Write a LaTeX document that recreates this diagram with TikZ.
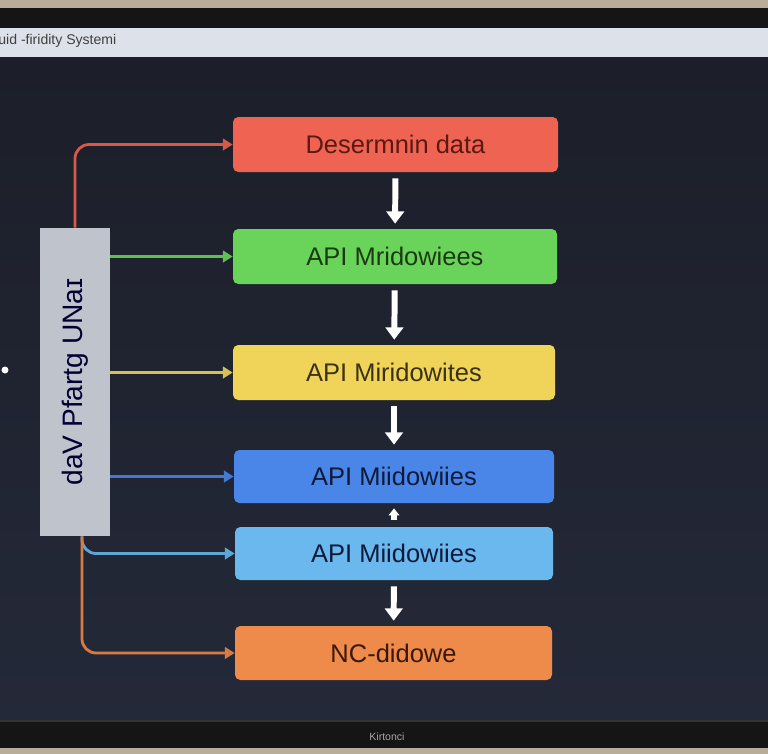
\documentclass[tikz,border=0pt]{standalone}
\usepackage{fontspec}
\setmainfont{Liberation Sans}
\usetikzlibrary{arrows.meta,positioning}
\definecolor{screenbg}{HTML}{1C1F29}
\definecolor{screenbot}{HTML}{242939}
\definecolor{bezel}{HTML}{151515}
\definecolor{desk}{HTML}{B8AD98}
\definecolor{titlebar}{HTML}{DDE1EA}
\definecolor{sidegray}{HTML}{BFC3CB}
\definecolor{cred}{HTML}{EE6352}
\definecolor{cgreen}{HTML}{6AD45A}
\definecolor{cyellow}{HTML}{F0D45A}
\definecolor{cblue}{HTML}{4A86E8}
\definecolor{clblue}{HTML}{6AB8EE}
\definecolor{corange}{HTML}{EE8A4A}
\definecolor{tred}{HTML}{5A1A12}
\definecolor{tgreen}{HTML}{1A3A12}
\definecolor{tyellow}{HTML}{3A3212}
\definecolor{tblue}{HTML}{0E1A3A}
\definecolor{torange}{HTML}{3A1808}
\begin{document}
\begin{tikzpicture}[every node/.style={font=\fontsize{14.5}{16}\selectfont},
  stagebox/.style={rounded corners=3pt, minimum height=1.1cm, inner sep=0pt},
  flow/.style={-{Triangle[length=7pt,width=10pt]}, line width=3.4pt, white, shorten <=0.12cm, shorten >=0.1cm},
  feed/.style={-{Triangle[length=5.5pt,width=6.5pt]}, line width=1.6pt, rounded corners=8pt}]
\useasboundingbox (0,0) rectangle (15.36,-15.06);
% monitor and screen
\fill[bezel] (-0.2,0.2) rectangle (15.56,-15.26);
\fill[desk] (-0.2,0.2) rectangle (15.56,-0.16);
\fill[desk] (-0.2,-14.96) rectangle (15.56,-15.26);
\shade[top color=screenbg, bottom color=screenbot] (-0.2,-1.14) rectangle (15.56,-14.38);
\fill[titlebar] (-0.2,-0.56) rectangle (15.56,-1.14);
\draw[gray!40!black, line width=1pt] (-0.2,-14.42) -- (15.56,-14.42);
\node[font=\fontsize{8}{9}\selectfont, text=black!75, anchor=west, inner sep=0pt] (title) at (-0.04,-0.82) {uid -firidity Systemi};
\node[font=\fontsize{6}{7}\selectfont, text=gray!70, inner sep=0pt] (brand) at (7.74,-14.74) {Kirtonci};
\fill[white] (0.1,-7.4) circle (0.07);
% stages
\node[stagebox, fill=cred, minimum width=6.5cm, text=tred] (b1) at (7.91,-2.89) {Desermnin data};
\node[stagebox, fill=cgreen, minimum width=6.48cm, text=tgreen] (b2) at (7.9,-5.13) {API Mridowiees};
\node[stagebox, fill=cyellow, minimum width=6.44cm, text=tyellow] (b3) at (7.88,-7.45) {API Miridowites};
\node[stagebox, fill=cblue, minimum width=6.4cm, minimum height=1.06cm, text=tblue] (b4) at (7.88,-9.53) {API Miidowiies};
\node[stagebox, fill=clblue, minimum width=6.36cm, minimum height=1.06cm, text=tblue] (b5) at (7.88,-11.07) {API Miidowiies};
\node[stagebox, fill=corange, minimum width=6.34cm, minimum height=1.08cm, text=torange] (b6) at (7.87,-13.06) {NC-didowe};
% side panel
\node[fill=sidegray, minimum width=1.4cm, minimum height=6.16cm, inner sep=0pt] (side) at (1.5,-7.64) {};
\node[rotate=90, font=\fontsize{16}{18}\selectfont, text=black!80!blue] (sidetxt) at (side.center) {daV Pfartg UNaɪ};
\coordinate (fork) at ([xshift=0.14cm]side.south);
% flow arrows
\draw[flow] (b1) -- (b2);
\draw[flow] (b2) -- (b3);
\draw[flow] (b3) -- (b4);
\draw[-{Triangle[length=4pt,width=6pt]}, line width=3.4pt, white, shorten <=0.14cm, shorten >=0.1cm] (b5) -- (b4);
\draw[flow] (b5) -- (b6);
% feeds from side panel
\draw[feed, cred!90!black] (side.north) |- (b1.west);
\draw[feed, cgreen!90!black] (side.east |- b2.west) -- (b2.west);
\draw[feed, cyellow!90!black] (side.east |- b3.west) -- (b3.west);
\draw[feed, cblue!90!black] (side.east |- b4.west) -- (b4.west);
\draw[feed, clblue!90!black] (fork) |- (b5.west);
\draw[feed, corange!90!black] (fork) |- (b6.west);
\end{tikzpicture}
\end{document}
